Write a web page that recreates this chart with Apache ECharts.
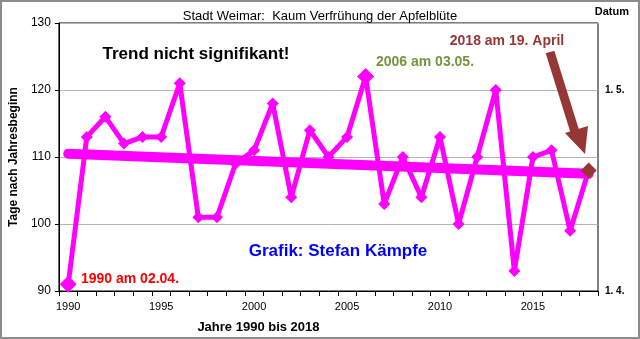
<!DOCTYPE html>
<html>
<head>
<meta charset="utf-8">
<script src="https://cdn.jsdelivr.net/npm/echarts@6/dist/echarts.min.js"></script>
<style>html,body{margin:0;padding:0;background:#fff;}#c{width:640px;height:339px;}</style>
</head>
<body>
<div id="c"></div>
<script>
var years = ['1990','1991','1992','1993','1994','1995','1996','1997','1998','1999',
             '2000','2001','2002','2003','2004','2005','2006','2007','2008','2009',
             '2010','2011','2012','2013','2014','2015','2016','2017','2018'];
var bloomDays = [91,113,116,112,113,113,121,101,101,109,
                 111,118,104,114,110,113,122,103,110,104,
                 113,100,110,120,93,110,111,99,108];
var trendYears = ['1990','2018'];
var trendValues = [110.5, 107.5];
var yTicks = [90,100,110,120,130];
var rightLabels = {90:'1. 4.', 120:'1. 5.'};
var bigPoints = {'1990':'#FF00FF','2006':'#FF00FF','2018':'#953735'};

var FONT = 'Arial, "Liberation Sans", sans-serif';
var chart = echarts.init(document.getElementById('c'), null, {renderer:'canvas'});

var mainData = bloomDays.map(function(v,i){
  var y = years[i];
  if (bigPoints[y]) {
    return {value:v, symbolSize: y==='2018'?16:17, itemStyle:{color:bigPoints[y]}};
  }
  return v;
});
var trendData = trendYears.map(function(y,i){return [y, trendValues[i]];});

chart.setOption({
  backgroundColor:'#fff',
  animation:false,
  title:{text:'Stadt Weimar:  Kaum Verfrühung der Apfelblüte', left:'center', top:5,
    textStyle:{fontFamily:FONT,fontSize:13,fontWeight:'normal',color:'#000'}},
  grid:{left:56,right:42,top:23,bottom:45,show:true,borderColor:'#000',borderWidth:1,containLabel:false},
  xAxis:{type:'category',data:years,boundaryGap:true,
    name:'Jahre 1990 bis 2018',nameLocation:'middle',nameGap:30,
    nameTextStyle:{fontFamily:FONT,fontSize:13,fontWeight:'bold',color:'#000',padding:[0,140,0,0]},
    axisLine:{lineStyle:{color:'#000',width:1}},
    axisTick:{show:true,interval:0,length:5,lineStyle:{color:'#000'}},
    axisLabel:{interval:4,fontFamily:FONT,fontSize:11,color:'#000',margin:10},
    splitLine:{show:false}},
  yAxis:[{type:'value',min:90,max:130,interval:10,
    name:'Tage nach Jahresbeginn',nameLocation:'middle',nameGap:38,nameRotate:90,
    nameTextStyle:{fontFamily:FONT,fontSize:12,fontWeight:'bold',color:'#000'},
    axisLine:{show:true,lineStyle:{color:'#000'}},
    axisTick:{show:true,length:4,inside:false,lineStyle:{color:'#000'}},
    axisLabel:{fontFamily:FONT,fontSize:12,color:'#000',margin:8},
    splitLine:{show:true,lineStyle:{color:'#B3B3B3',width:1}}},
   {type:'value',min:90,max:130,interval:10,position:'right',
    axisLine:{show:false},axisTick:{show:false},splitLine:{show:false},
    axisLabel:{fontFamily:FONT,fontSize:10,fontWeight:'bold',color:'#000',margin:7,
      verticalAlign:'middle',
      formatter:function(v){return rightLabels[v]||'';}}}],
  series:[
    {type:'line',data:trendData,symbol:'none',z:2,
     lineStyle:{color:'#FF00FF',width:10,cap:'round'}},
    {type:'line',data:mainData,symbol:'diamond',symbolSize:12,z:5,
     showSymbol:true,showAllSymbol:true,
     lineStyle:{color:'#FF00FF',width:5},itemStyle:{color:'#FF00FF'}}
  ],
  graphic:[
    {type:'rect',shape:{x:1,y:1,width:638,height:337},style:{fill:'none',stroke:'#8C8C8C',lineWidth:2},z:100},
    {type:'text',x:629,y:12,style:{text:'Datum',font:'bold 11px '+FONT,fill:'#000',textAlign:'right',textVerticalAlign:'middle'}},
    {type:'text',x:196,y:54,style:{text:'Trend nicht signifikant!',font:'bold 17px '+FONT,fill:'#000',textAlign:'center',textVerticalAlign:'middle'}},
    {type:'text',x:425,y:62,style:{text:'2006 am 03.05.',font:'bold 14px '+FONT,fill:'#77933C',textAlign:'center',textVerticalAlign:'middle'}},
    {type:'text',x:507,y:41,style:{text:'2018 am 19. April',font:'bold 14px '+FONT,fill:'#953735',textAlign:'center',textVerticalAlign:'middle'}},
    {type:'text',x:338,y:251,style:{text:'Grafik: Stefan Kämpfe',font:'bold 17px '+FONT,fill:'#0000FF',textAlign:'center',textVerticalAlign:'middle'}},
    {type:'text',x:130,y:279,style:{text:'1990 am 02.04.',font:'bold 14px '+FONT,fill:'#FF0000',textAlign:'center',textVerticalAlign:'middle'}},
    {type:'line',shape:{x1:550,y1:52,x2:575,y2:132},style:{stroke:'#953735',lineWidth:9},z:50},
    {type:'polygon',shape:{points:[[565,133],[588,126],[585,154]]},style:{fill:'#953735'},z:50}
  ]
});
</script>
</body>
</html>
